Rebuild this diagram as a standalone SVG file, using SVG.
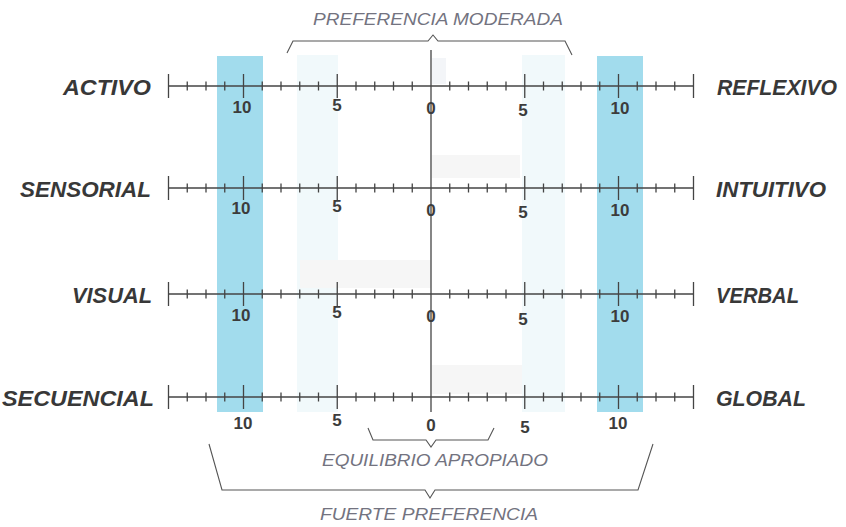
<svg xmlns="http://www.w3.org/2000/svg" xmlns:xlink="http://www.w3.org/1999/xlink" width="846" height="527" viewBox="0 0 846 527">
<style>
.lbl{font-family:"Liberation Sans",Arial,sans-serif;font-size:22px;font-weight:bold;font-style:italic;fill:#383838}
.num{font-family:"Liberation Sans",Arial,sans-serif;font-size:17px;font-weight:bold;fill:#3c3c3c;text-anchor:middle}
.cap{font-family:"Liberation Sans",Arial,sans-serif;font-size:17px;font-style:italic;fill:#737380}
.ax{stroke:#444;stroke-width:1.3;fill:none}
.br{stroke:#555;stroke-width:1.1;fill:none}
</style>
<defs>
<g id="scale">
<path class="ax" d="M168.5,0H693.5"/>
<path class="ax" d="M168.5,-12v24M243.5,-12v24M337.25,-12v24M524.75,-12v24M618.5,-12v24M693.5,-12v24"/>
<path class="ax" d="M187.25,-4.5v9M206,-4.5v9M224.75,-4.5v9M262.25,-4.5v9M281,-4.5v9M299.75,-4.5v9M318.5,-4.5v9M356,-4.5v9M374.75,-4.5v9M393.5,-4.5v9M412.25,-4.5v9M449.75,-4.5v9M468.5,-4.5v9M487.25,-4.5v9M506,-4.5v9M543.5,-4.5v9M562.25,-4.5v9M581,-4.5v9M599.75,-4.5v9M637.25,-4.5v9M656,-4.5v9M674.75,-4.5v9"/>
</g>
</defs>
<rect width="846" height="527" fill="#ffffff"/>
<g id="bands">
<rect x="297" y="55" width="41" height="357" fill="#f1f9fb"/>
<rect x="522" y="55" width="43" height="357" fill="#f1f9fb"/>
<rect x="432" y="58" width="14" height="26" fill="#f3f5f8"/>
<rect x="432" y="155" width="88" height="23" fill="#f6f6f6"/>
<rect x="300" y="260" width="131" height="28" fill="#f6f6f6"/>
<rect x="432" y="365" width="90" height="29" fill="#f6f6f6"/>
<rect x="217" y="56" width="46" height="356" fill="#a2dced"/>
<rect x="597" y="56" width="46" height="356" fill="#a2dced"/>
</g>
<g id="center-axis">
<path class="ax" d="M431,50V412"/>
</g>
<g id="row-activo-reflexivo">
<use xlink:href="#scale" transform="translate(0,86)"/>
<text class="lbl" x="63" y="95" textLength="88" lengthAdjust="spacingAndGlyphs">ACTIVO</text>
<text class="lbl" x="717" y="95" textLength="120" lengthAdjust="spacingAndGlyphs">REFLEXIVO</text>
<text class="num" x="242" y="113">10</text>
<text class="num" x="337" y="111">5</text>
<text class="num" x="431" y="114">0</text>
<text class="num" x="523" y="116">5</text>
<text class="num" x="620" y="114">10</text>
</g>
<g id="row-sensorial-intuitivo">
<use xlink:href="#scale" transform="translate(0,188)"/>
<text class="lbl" x="20" y="197" textLength="131" lengthAdjust="spacingAndGlyphs">SENSORIAL</text>
<text class="lbl" x="716" y="197" textLength="110" lengthAdjust="spacingAndGlyphs">INTUITIVO</text>
<text class="num" x="241" y="214">10</text>
<text class="num" x="337" y="212">5</text>
<text class="num" x="431" y="216">0</text>
<text class="num" x="523" y="218">5</text>
<text class="num" x="620" y="216">10</text>
</g>
<g id="row-visual-verbal">
<use xlink:href="#scale" transform="translate(0,294)"/>
<text class="lbl" x="72" y="303" textLength="80" lengthAdjust="spacingAndGlyphs">VISUAL</text>
<text class="lbl" x="716" y="303" textLength="83" lengthAdjust="spacingAndGlyphs">VERBAL</text>
<text class="num" x="241" y="321">10</text>
<text class="num" x="337" y="318">5</text>
<text class="num" x="431" y="322">0</text>
<text class="num" x="523" y="325">5</text>
<text class="num" x="620" y="322">10</text>
</g>
<g id="row-secuencial-global">
<use xlink:href="#scale" transform="translate(0,397)"/>
<text class="lbl" x="2" y="406" textLength="152" lengthAdjust="spacingAndGlyphs">SECUENCIAL</text>
<text class="lbl" x="716" y="406" textLength="90" lengthAdjust="spacingAndGlyphs">GLOBAL</text>
<text class="num" x="243" y="429">10</text>
<text class="num" x="337" y="426">5</text>
<text class="num" x="431" y="431">0</text>
<text class="num" x="525" y="433">5</text>
<text class="num" x="618" y="429">10</text>
</g>
<g id="connectors">
<path class="br" d="M287,53L293,41H428L433,35L438,41H565L572,55"/>
<path class="br" d="M368,428L373,440H426L431,447L436,440H488L494,428"/>
<path class="br" d="M209,444L222,490H425L430,498L435,490H638L653,444"/>
</g>
<g id="captions">
<text class="cap" x="313" y="25" textLength="250" lengthAdjust="spacingAndGlyphs">PREFERENCIA MODERADA</text>
<text class="cap" x="322" y="466" textLength="226" lengthAdjust="spacingAndGlyphs">EQUILIBRIO APROPIADO</text>
<text class="cap" x="320" y="520" textLength="218" lengthAdjust="spacingAndGlyphs">FUERTE PREFERENCIA</text>
</g>
</svg>
